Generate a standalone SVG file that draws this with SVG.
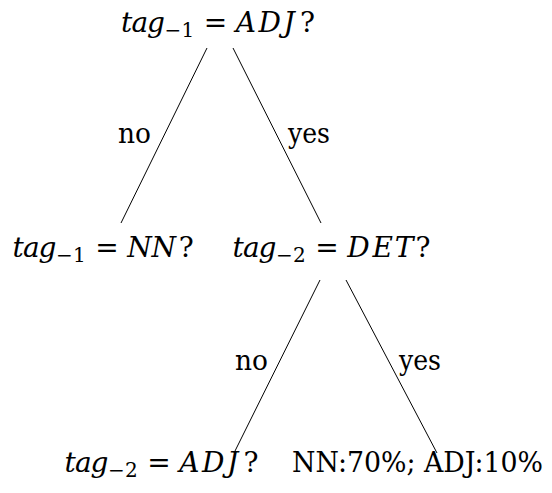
<svg xmlns="http://www.w3.org/2000/svg" width="552" height="493" viewBox="0 0 552 493">
<style>
text{font-family:"DejaVu Serif","Liberation Serif",serif;font-size:28px;fill:#000}
.i{font-style:italic}
.sub{font-size:20px}
.lbl{font-size:27px}
.edge{stroke:#000;stroke-width:1;fill:none}
</style>
<rect width="552" height="493" fill="#fff"/>
<g id="connectors">
<line class="edge" x1="207" y1="48" x2="121" y2="223"/>
<line class="edge" x1="233" y1="48" x2="321" y2="223"/>
<line class="edge" x1="320" y1="280" x2="234" y2="453"/>
<line class="edge" x1="346" y1="280" x2="437" y2="453"/>
<text class="lbl" x="118" y="143" textLength="33" lengthAdjust="spacingAndGlyphs">no</text>
<text class="lbl" x="288" y="143" textLength="42" lengthAdjust="spacingAndGlyphs">yes</text>
<text class="lbl" x="235" y="370" textLength="33" lengthAdjust="spacingAndGlyphs">no</text>
<text class="lbl" x="399" y="370" textLength="42" lengthAdjust="spacingAndGlyphs">yes</text>
</g>
<g id="root">
<text y="32"><tspan class="i" x="121 131.5 147">tag</tspan><tspan class="sub" x="164.5 181.5" dy="5">−1</tspan><tspan x="203.8" dy="-5">=</tspan><tspan class="i" x="235.8 258.5 283.6">ADJ</tspan><tspan x="300">?</tspan></text>
</g>
<g id="node-nn">
<text y="257"><tspan class="i" x="12.5 23 38.5">tag</tspan><tspan class="sub" x="56 73" dy="5">−1</tspan><tspan x="95.3" dy="-5">=</tspan><tspan class="i" x="127.3 151.6">NN</tspan><tspan x="178.8">?</tspan></text>
</g>
<g id="node-det">
<text y="257"><tspan class="i" x="232.5 243 258.5">tag</tspan><tspan class="sub" x="276 293" dy="5">−2</tspan><tspan x="315.3" dy="-5">=</tspan><tspan class="i" x="347.3 372.4 394.7">DET</tspan><tspan x="415.5">?</tspan></text>
</g>
<g id="node-adj">
<text y="472"><tspan class="i" x="64.5 75 90.5">tag</tspan><tspan class="sub" x="108 125" dy="5">−2</tspan><tspan x="147.3" dy="-5">=</tspan><tspan class="i" x="179.3 202 227.1">ADJ</tspan><tspan x="243.5">?</tspan></text>
</g>
<g id="leaf">
<text class="lbl" x="292" y="472" textLength="251" lengthAdjust="spacingAndGlyphs">NN:70%; ADJ:10%</text>
</g>
</svg>
